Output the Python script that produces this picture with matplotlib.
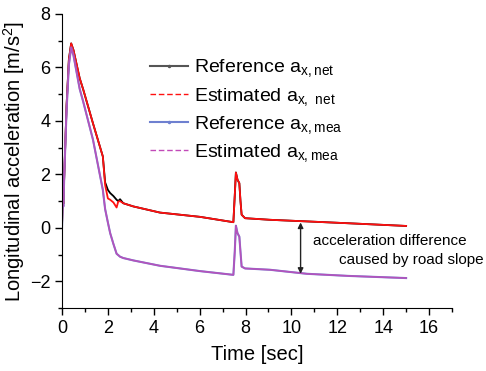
import matplotlib
matplotlib.use("Agg")
import matplotlib.pyplot as plt
from matplotlib.lines import Line2D
from matplotlib.ticker import MultipleLocator

plt.rcParams['font.family'] = ['Liberation Sans', 'DejaVu Sans']
plt.rcParams['mathtext.default'] = 'regular'

# Time [sec]
time = [0.0, 0.03, 0.06, 0.1, 0.2, 0.3, 0.4, 0.5, 0.77, 0.93, 1.35, 1.78, 1.88,
        2.0, 2.1, 2.24, 2.38, 2.45, 2.53, 2.67, 3.11, 4.27, 6.02, 7.47, 7.53,
        7.58, 7.65, 7.73, 7.78, 7.83, 7.98, 9.07, 10.67, 12.5, 15.0]

ref_net = [0.0, 1.2, 0.9, 2.0, 4.6, 6.3, 6.9, 6.65, 5.6, 5.16, 3.91, 2.67, 1.7,
           1.42, 1.3, 1.19, 1.05, 1.0, 1.07, 0.92, 0.80, 0.57, 0.41, 0.21, 1.2,
           2.07, 1.8, 1.67, 1.0, 0.49, 0.36, 0.30, 0.24, 0.17, 0.07]

est_net = [0.0, 1.2, 0.9, 2.0, 4.6, 6.3, 6.9, 6.65, 5.6, 5.16, 3.91, 2.67, 1.6,
           1.1, 1.05, 0.95, 0.76, 0.98, 1.0, 0.92, 0.80, 0.57, 0.41, 0.21, 1.2,
           2.07, 1.8, 1.67, 1.0, 0.49, 0.36, 0.30, 0.24, 0.17, 0.07]

ref_mea = [0.0, 1.0, 0.8, 2.0, 4.4, 6.1, 6.75, 6.45, 5.2, 4.7, 3.3, 1.42, 0.7,
           0.2, -0.2, -0.6, -0.97, -1.02, -1.08, -1.13, -1.22, -1.42, -1.62, -1.76, -0.9,
           0.08, -0.2, -0.33, -0.9, -1.45, -1.52, -1.57, -1.72, -1.80, -1.88]

est_mea = list(ref_mea)

legend_labels = [r'Reference a$_{x,net}$', r'Estimated a$_{x,\ net}$',
                 r'Reference a$_{x,mea}$', r'Estimated a$_{x,mea}$']

fig = plt.figure(figsize=(4.86, 3.71), dpi=100)
ax = fig.add_axes([62/486, 1-308/371, (452-62)/486, (308-14)/371])

c_ref_net = 'black'
c_est_net = '#ff1010'
c_ref_mea = '#6e80d0'
c_est_mea = '#c24ab8'

ax.plot(time, ref_net, color=c_ref_net, lw=1.3)
ax.plot(time, est_net, color=c_est_net, lw=1.3)
ax.plot(time, ref_mea, color=c_ref_mea, lw=1.5)
ax.plot(time, est_mea, color=c_est_mea, lw=1.2, alpha=0.85)

ax.set_xlim(0, 17)
ax.set_ylim(-3, 8)
ax.xaxis.set_major_locator(MultipleLocator(2))
ax.xaxis.set_minor_locator(MultipleLocator(1))
ax.yaxis.set_major_locator(MultipleLocator(2))
ax.yaxis.set_minor_locator(MultipleLocator(1))
ax.spines['top'].set_visible(False)
ax.spines['right'].set_visible(False)
ax.tick_params(which='major', direction='out', length=5, width=1, labelsize=13)
ax.tick_params(which='minor', direction='out', length=3, width=1)
ax.set_xlabel('Time [sec]', fontsize=14.5, labelpad=6)
ax.set_ylabel('Longitudinal acceleration [m/s$^2$]', fontsize=14.5, labelpad=2)

handles = [
    Line2D([], [], color='#555555', lw=1.5, marker='.', markersize=3, markevery=[1]),
    Line2D([], [], color=c_est_net, lw=1, ls=(0, (4, 2))),
    Line2D([], [], color=c_ref_mea, lw=1.5, marker='.', markersize=3, markevery=[1]),
    Line2D([], [], color=c_est_mea, lw=1, ls=(0, (4, 2))),
]
for h in handles:
    h.set_xdata([0, 0.5, 1]); h.set_ydata([0, 0, 0])
fig.legend(handles, legend_labels, loc='upper left',
           bbox_to_anchor=(132/486, 1-40/371), frameon=False, fontsize=14,
           handlelength=2.0, handletextpad=0.3, labelspacing=0.32)

# arrow indicating slope-induced difference
ax.annotate('', xy=(10.4, -1.72), xytext=(10.4, 0.2),
            arrowprops=dict(arrowstyle='<|-|>', color='#222222', lw=1,
                            mutation_scale=8, shrinkA=0, shrinkB=0))
ax.text(10.92, -0.5, 'acceleration difference', fontsize=11, va='center', ha='left')
ax.text(18.4, -1.2, 'caused by road slope', fontsize=11, va='center', ha='right',
        clip_on=False)

fig.savefig('out.png', dpi=100)
